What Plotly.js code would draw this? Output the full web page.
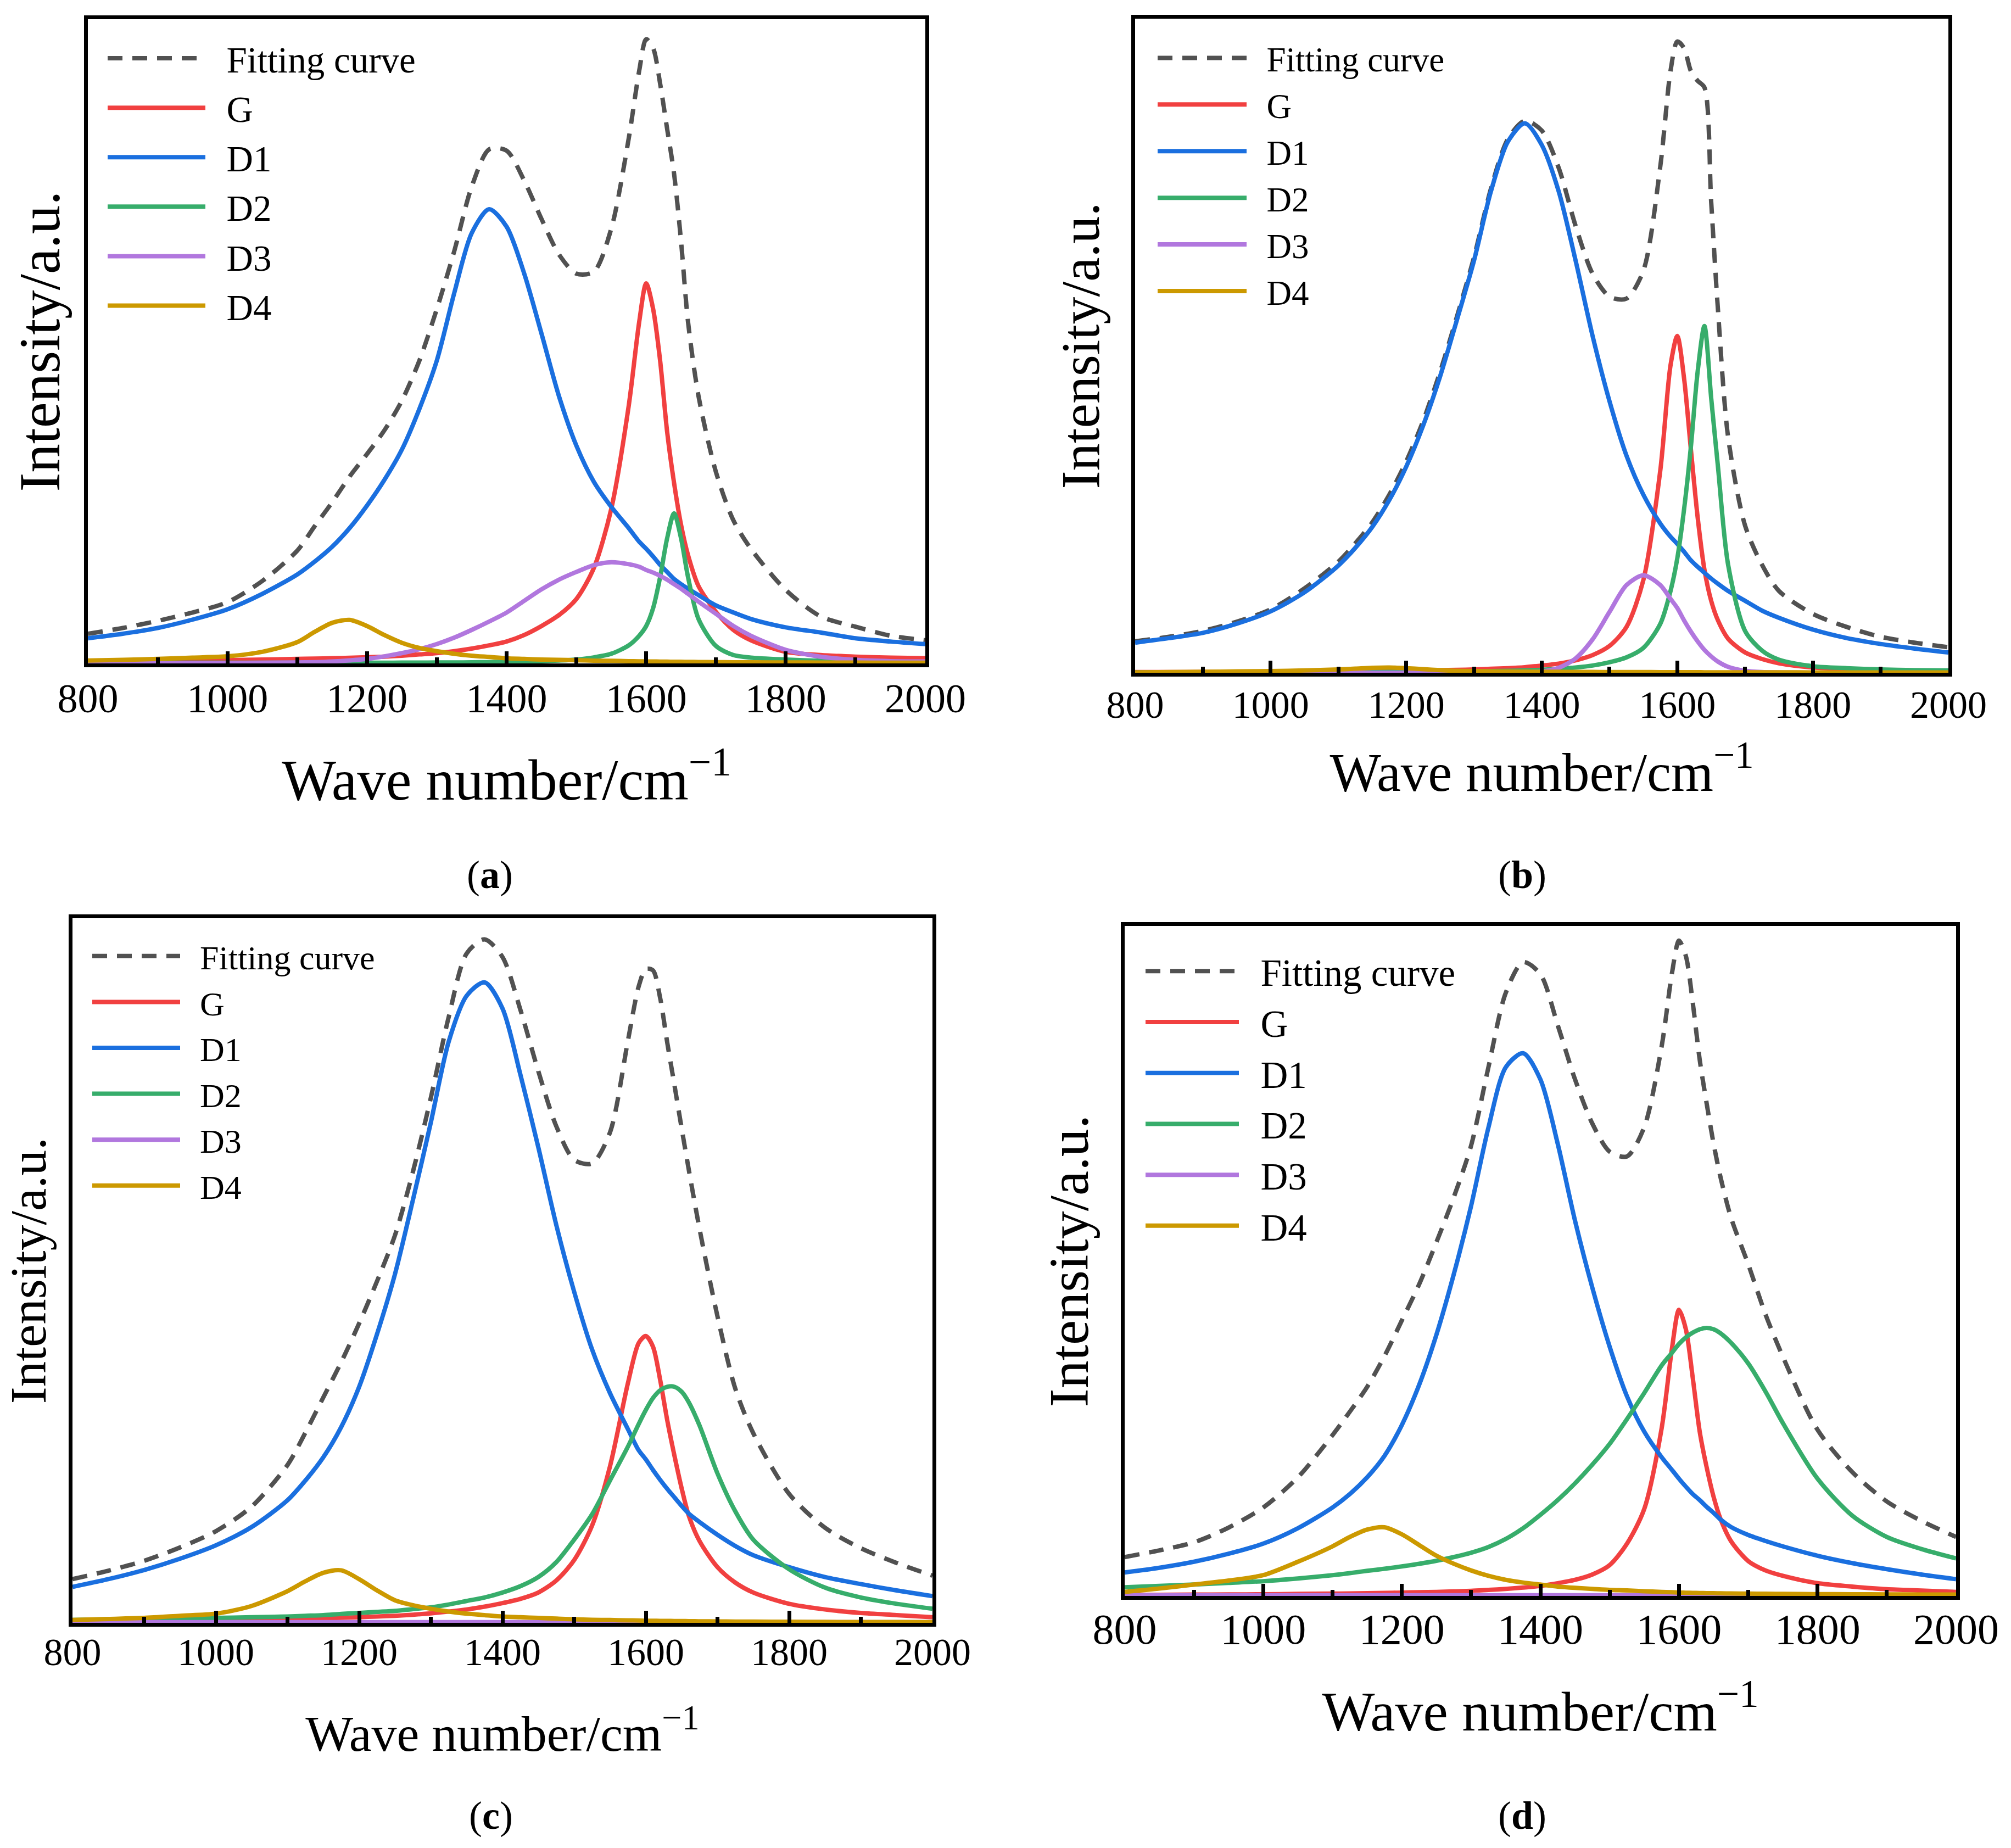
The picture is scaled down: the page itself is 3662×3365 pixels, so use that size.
<!DOCTYPE html>
<html>
<head>
<meta charset="utf-8">
<script src="https://cdn.plot.ly/plotly-3.0.1.min.js"></script>
<style>
html,body{margin:0;padding:0;background:#ffffff;}
#chart{width:3662px;height:3365px;}
</style>
</head>
<body>
<div id="chart"></div>
<script>
// ---------------- data (intensity in % of plot height) ----------------
const waveNumber = [800,850,900,950,1000,1050,1100,1125,1150,1175,1200,1225,1250,1275,1300,1325,1350,1375,1400,1425,1450,1475,1500,1525,1550,1575,1590,1600,1610,1620,1630,1640,1650,1660,1675,1700,1725,1750,1800,1850,1900,1950,2000];

const seriesNames = ['Fitting curve','G','D1','D2','D3','D4'];
const panelLetters = ['a','b','c','d'];

// panel (a)
const fitA = [4.6,5.5,6.6,7.9,9.5,12.8,17.5,21.3,25,29,32.5,36.2,40.8,47,55,64,74,79.8,79.6,75,69,63.5,60.5,60.8,67.5,81.5,92,96.9,95.5,90,83,76,65.5,53,41.5,29.7,22.2,17.8,11.4,7.3,5.7,4.3,3.6];
const gA   = [0.3,0.35,0.4,0.45,0.5,0.6,0.7,0.75,0.8,0.87,0.95,1.05,1.2,1.4,1.6,1.9,2.3,2.8,3.4,4.4,5.8,7.5,10,14.8,24,40,53,59,55,47,36,28,21.5,16.8,12,8,5.2,3.6,1.8,1.3,1.05,0.9,0.8];
const d1A  = [3.9,4.6,5.5,6.8,8.4,10.8,13.8,15.8,18.1,21,24.5,28.5,33.2,39.5,47,57.5,66.8,70.5,67.8,60.6,51.2,41.5,33.8,28.2,24.3,21,18.9,17.8,16.6,15.3,14.2,13.1,12.3,11.6,10.6,9,7.9,6.9,5.6,4.8,3.9,3.4,3.0];
const d2A  = [0.1,0.1,0.1,0.1,0.1,0.1,0.1,0.1,0.1,0.1,0.1,0.11,0.12,0.13,0.14,0.15,0.17,0.2,0.25,0.3,0.35,0.45,0.6,0.93,1.5,2.8,4.3,5.8,8.6,13.4,19.4,23.3,19.4,13.4,6.9,2.7,1.3,0.9,0.6,0.4,0.3,0.25,0.2];
const d3A  = [0,0,0,0,0.05,0.1,0.15,0.2,0.3,0.47,0.7,1.1,1.6,2.2,3,4,5.2,6.5,7.9,9.7,11.5,13,14.2,15.25,15.7,15.4,15,14.5,14.1,13.6,13,12.3,11.6,10.8,9.6,7.7,5.8,4.3,2.1,1.05,0.55,0.35,0.3];
const d4A  = [0.45,0.55,0.7,0.9,1.1,1.8,3.3,4.9,6.3,6.75,5.8,4.4,3.2,2.4,1.9,1.5,1.2,1.0,0.8,0.7,0.6,0.55,0.5,0.43,0.4,0.35,0.33,0.3,0.3,0.28,0.27,0.26,0.25,0.24,0.22,0.2,0.18,0.17,0.15,0.13,0.12,0.11,0.1];

// panel (b)
const fitB = [4.8,5.5,6.4,7.8,9.7,12.9,17,19.8,23,27.2,32.3,38.5,46,54.5,63.5,74,81.6,84.4,82.9,77.2,68.3,61,57.5,57.2,61.5,77.5,92,96.5,95.5,92,90.5,89.5,72,55.5,36,22.5,16.5,12.5,9,7,5.5,4.6,3.9];
const gB   = [0.1,0.1,0.12,0.14,0.16,0.18,0.2,0.22,0.25,0.27,0.3,0.35,0.4,0.45,0.5,0.6,0.7,0.85,1.1,1.4,1.9,2.7,4.1,7.0,14.2,31,47,51.5,45,34.2,23.8,15.8,11,8,5.2,3.1,2.1,1.45,0.8,0.55,0.4,0.3,0.25];
const d1B  = [4.6,5.3,6.1,7.5,9.4,12.3,16.4,19.1,22.3,26.4,31.5,37.8,45.3,54,63,73.6,81.2,84,80.7,73.6,63,51.5,41.5,33.2,27.2,22.8,20.8,19.7,18.5,17.2,16.2,15.3,14.4,13.6,12.5,11,9.5,8.4,6.6,5.3,4.4,3.7,3.1];
const d2B  = [0.05,0.05,0.06,0.07,0.08,0.1,0.12,0.13,0.14,0.15,0.17,0.18,0.2,0.21,0.22,0.25,0.3,0.35,0.45,0.6,0.8,1.1,1.6,2.35,3.8,7.5,12.5,17.5,25,34.5,46,53,42,31.5,16.5,6.4,3.4,2.0,1.0,0.7,0.5,0.4,0.35];
const d3B  = [0,0,0,0,0,0,0,0,0,0,0,0,0,0,0,0,0,0.05,0.2,0.75,2.2,5.1,9.3,13.4,14.9,13.4,11.3,9.9,8,6.3,4.8,3.5,2.5,1.7,0.9,0.3,0.1,0.05,0,0,0,0,0];
const d4B  = [0.05,0.1,0.15,0.2,0.25,0.35,0.5,0.62,0.75,0.8,0.7,0.55,0.4,0.3,0.25,0.2,0.18,0.16,0.15,0.14,0.13,0.12,0.11,0.1,0.1,0.09,0.09,0.08,0.08,0.08,0.08,0.07,0.07,0.07,0.07,0.06,0.06,0.06,0.05,0.05,0.05,0.05,0.05];

// panel (c)
const fitC = [6.2,7.4,8.8,10.7,13,16.5,22.4,27,32,37,42.5,48.5,55,64,74.5,86,95,97,94.5,87,78.3,70.5,65.7,65.2,69.6,82.6,90.3,92.8,92.6,88.7,82.3,76.3,70.2,64.3,55.9,43.5,33.2,26.9,18.3,13.5,10.6,8.5,6.7];
const gC   = [0.2,0.23,0.27,0.3,0.38,0.45,0.55,0.6,0.65,0.72,0.8,0.9,1.0,1.15,1.35,1.6,1.9,2.3,2.8,3.4,4.3,6.0,8.9,13.8,22.2,34,39.7,40.7,39.2,34.5,28.7,23.7,19.1,15.2,11.6,7.9,5.7,4.3,2.7,1.9,1.4,1.1,0.8];
const d1C  = [5.1,6.2,7.5,9.1,11,13.6,17.4,20.2,23.5,27.8,33.5,41,49.5,60,71,82.5,89,90.9,87.2,77.8,67.5,56.5,47,38.8,32.6,27.5,24.5,23.2,21.7,20.3,19,17.8,16.6,15.5,14.3,12.5,10.9,9.6,7.9,6.5,5.5,4.6,3.8];
const d2C  = [0.4,0.5,0.6,0.65,0.7,0.8,0.9,1.0,1.1,1.27,1.4,1.55,1.7,1.95,2.2,2.6,3.1,3.6,4.3,5.2,6.5,8.6,11.8,15.4,20.2,25,28.2,30.2,31.9,33,33.5,33.5,32.8,31.3,28,21.2,15.8,11.8,7.6,5,3.6,2.7,2.0];
const d3C  = [0.1,0.1,0.1,0.1,0.1,0.1,0.1,0.1,0.1,0.1,0.1,0.1,0.1,0.1,0.1,0.1,0.1,0.1,0.1,0.1,0.1,0.1,0.1,0.1,0.1,0.1,0.1,0.1,0.1,0.1,0.1,0.1,0.1,0.1,0.1,0.1,0.1,0.1,0.1,0.1,0.1,0.1,0.1];
const d4C  = [0.4,0.55,0.7,1.0,1.3,2.4,4.5,5.9,7.1,7.45,6.2,4.6,3.2,2.5,2,1.6,1.3,1.1,0.9,0.8,0.7,0.6,0.5,0.43,0.4,0.35,0.33,0.3,0.3,0.28,0.27,0.26,0.25,0.24,0.22,0.2,0.18,0.17,0.15,0.13,0.12,0.11,0.1];

// panel (d)
const fitD = [5.8,6.8,8,10.2,13.2,17.7,24,27.5,31.2,35.8,41.1,46.5,52.8,59.5,67.2,78.9,90,94.6,92.8,85.2,77.1,70.5,66.3,65.6,70,82,93,97.8,95.5,88.5,80,73.5,67.5,62.5,56.5,49.5,42,35.7,24.8,18.5,14.1,11.2,8.8];
const gD   = [0.15,0.17,0.2,0.22,0.25,0.3,0.35,0.37,0.4,0.45,0.5,0.55,0.6,0.68,0.75,0.9,1.05,1.25,1.5,1.9,2.4,3.2,4.6,7.8,13,25,37,42.7,39.8,32.5,24.5,19.2,14.8,11.5,8.2,5.2,3.8,3,1.9,1.4,1.0,0.8,0.6];
const d1D  = [3.5,4.2,5.1,6.3,7.8,10.1,13.2,15.2,17.7,20.9,25.5,31.5,39,48,58.2,69.9,78.9,81,77.1,67.5,56,46,37.2,29.8,24.5,20.7,18.8,17.5,16.3,15.2,14.3,13.3,12.4,11.4,10.3,9.1,8.2,7.4,6.0,4.9,4.0,3.2,2.5];
const d2D  = [1.3,1.5,1.7,1.95,2.2,2.6,3.1,3.4,3.75,4.05,4.4,4.8,5.25,5.8,6.45,7.3,8.5,10.1,12.1,14.3,16.8,19.6,22.7,26.4,30.3,34.4,36.3,37.6,38.6,39.3,39.8,40,39.8,39.2,37.8,34.7,30.5,25.8,17.5,12,8.8,7,5.6];
const d3D  = [0.1,0.1,0.1,0.1,0.1,0.1,0.1,0.1,0.1,0.1,0.1,0.1,0.1,0.1,0.1,0.1,0.1,0.1,0.1,0.1,0.1,0.1,0.1,0.1,0.1,0.1,0.1,0.1,0.1,0.1,0.1,0.1,0.1,0.1,0.1,0.1,0.1,0.1,0.1,0.1,0.1,0.1,0.1];
const d4D  = [0.6,1.1,1.7,2.3,3.1,5.1,7.4,8.8,9.9,10.25,9.2,7.6,6,4.8,3.8,3,2.4,2,1.7,1.4,1.2,1.05,0.9,0.82,0.7,0.6,0.55,0.5,0.48,0.46,0.44,0.42,0.4,0.38,0.36,0.34,0.32,0.3,0.27,0.25,0.23,0.21,0.2];

// ---------------- styling / layout ----------------
const W = 3662, H = 3365;
const FONT = 'Liberation Serif, Times New Roman, Times, serif';
const COLORS = ['#515151','#F14040','#1A6FDF','#37AD6B','#B177DE','#CC9900'];

const panels = [
  {series:[fitA,gA,d1A,d2A,d3A,d4A], box:{l:160,r:1685,t:35,b:1208}, tick:74, xt:105, yt:105,
   leg:{x:191,y:56,fs:67,iw:178}, lab:[892,1593], tstand:-7, xstand:73, ystand:12},
  {series:[fitB,gB,d1B,d2B,d3B,d4B], box:{l:2067,r:3548,t:34,b:1225}, tick:70, xt:99, yt:100,
   leg:{x:2103,y:58,fs:63,iw:162}, lab:[2772,1593], tstand:-9, xstand:52, ystand:28},
  {series:[fitC,gC,d1C,d2C,d3C,d4C], box:{l:132,r:1698,t:1672,b:2955}, tick:70, xt:92, yt:93,
   leg:{x:163,y:1694,fs:62,iw:160}, lab:[894,3306], tstand:-14, xstand:80, ystand:19},
  {series:[fitD,gD,d1D,d2D,d3D,d4D], box:{l:2048,r:3562,t:1686,b:2906}, tick:78, xt:102, yt:102,
   leg:{x:2081,y:1717,fs:69,iw:170}, lab:[2772,3306], tstand:-14, xstand:73, ystand:28}
];

const traces = [];
const layout = {
  width: W, height: H, autosize: false,
  margin: {l:0, r:0, t:0, b:0, pad:0},
  paper_bgcolor: '#ffffff', plot_bgcolor: '#ffffff',
  showlegend: true,
  annotations: []
};

panels.forEach((p, i) => {
  const n = i === 0 ? '' : String(i + 1);
  const xName = 'xaxis' + n, yName = 'yaxis' + n, legName = 'legend' + n;
  p.series.forEach((vals, s) => {
    traces.push({
      type: 'scatter', mode: 'lines',
      x: waveNumber, y: vals,
      name: '\u2002' + seriesNames[s],
      xaxis: 'x' + n, yaxis: 'y' + n, legend: legName,
      line: {color: COLORS[s], width: 8, dash: s === 0 ? '27px,18px' : 'solid', shape: 'spline', smoothing: 0.8},
      hoverinfo: 'skip'
    });
  });
  layout[xName] = {
    domain: [p.box.l / W, p.box.r / W],
    anchor: 'y' + n,
    range: [800, 2000],
    showline: true, mirror: true, linecolor: '#000', linewidth: 7,
    ticks: 'inside', ticklen: 22, tickwidth: 7, tickcolor: '#000',
    tick0: 800, dtick: 200,
    minor: {ticks: 'inside', ticklen: 11, tickwidth: 7, tickcolor: '#000', dtick: 100, tick0: 800, showgrid: false},
    showgrid: false, zeroline: false,
    tickfont: {family: FONT, size: p.tick, color: '#000'},
    ticklabelstandoff: p.tstand,
    title: {text: 'Wave number/cm<sup>\u22121</sup>', font: {family: FONT, size: p.xt, color: '#000'}, standoff: p.xstand},
    fixedrange: true
  };
  layout[yName] = {
    domain: [1 - p.box.b / H, 1 - p.box.t / H],
    anchor: 'x' + n,
    range: [0, 100],
    showline: true, mirror: true, linecolor: '#000', linewidth: 7,
    ticks: '', showticklabels: false, showgrid: false, zeroline: false,
    title: {text: 'Intensity/a.u.', font: {family: FONT, size: p.yt, color: '#000'}, standoff: p.ystand},
    fixedrange: true
  };
  layout[legName] = {
    x: p.leg.x / W, y: 1 - p.leg.y / H, xanchor: 'left', yanchor: 'top',
    xref: 'paper', yref: 'paper',
    bgcolor: 'rgba(0,0,0,0)', borderwidth: 0,
    font: {family: FONT, size: p.leg.fs, color: '#000'},
    itemwidth: p.leg.iw, tracegroupgap: 0, traceorder: 'normal'
  };
  layout.annotations.push({
    xref: 'paper', yref: 'paper', x: p.lab[0] / W, y: 1 - p.lab[1] / H,
    text: '(<b>' + panelLetters[i] + '</b>)', showarrow: false,
    xanchor: 'center', yanchor: 'middle',
    font: {family: FONT, size: 72, color: '#000'}
  });
});

Plotly.newPlot('chart', traces, layout, {staticPlot: true, displayModeBar: false});
</script>
</body>
</html>
